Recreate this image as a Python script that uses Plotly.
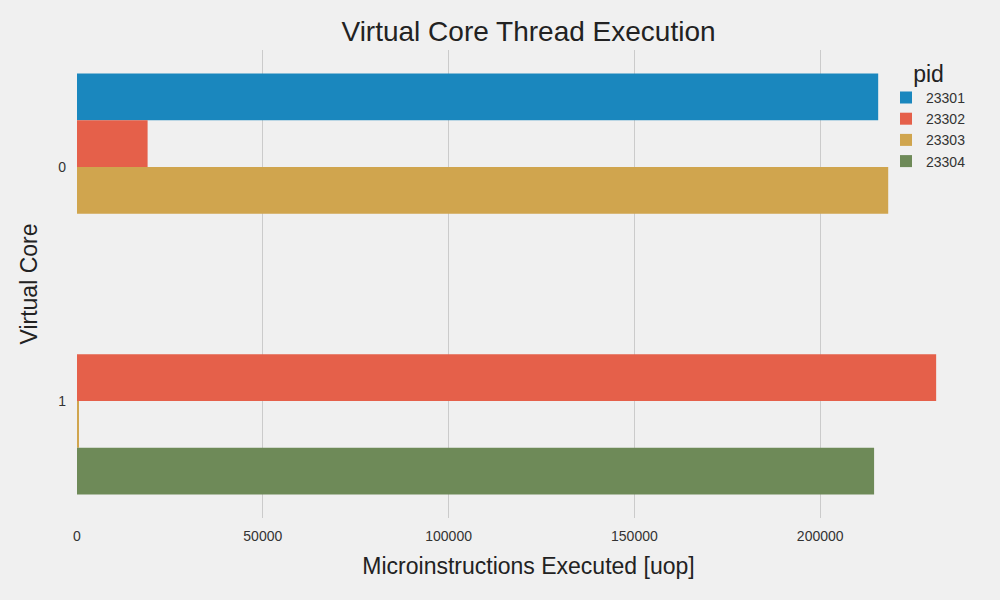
import plotly.graph_objects as go

cores = ["0", "1"]
pids = ["23301", "23302", "23303", "23304"]
uops = {
    "23301": [215600, 0],
    "23302": [19000, 231200],
    "23303": [218300, 500],
    "23304": [0, 214500],
}
colors = {
    "23301": "#1a87be",
    "23302": "#e5604a",
    "23303": "#d0a54e",
    "23304": "#6e8a58",
}

fig = go.Figure()
for p in pids:
    fig.add_trace(go.Bar(
        x=uops[p], y=cores, name=p, orientation="h",
        marker=dict(color=colors[p], line=dict(width=0)),
    ))

L, R, T, B = 77, 20, 50, 82
fig.update_layout(
    width=1000, height=600,
    margin=dict(l=L, r=R, t=T, b=B),
    paper_bgcolor="#f0f0f0", plot_bgcolor="#f0f0f0",
    barmode="group", bargap=0.2, bargroupgap=0,
    font=dict(family="Liberation Sans, Arial, sans-serif", color="#333333"),
    title=dict(text="Virtual Core Thread Execution", xref="paper", x=0.5,
               xanchor="center", y=1 - 31 / 600, yanchor="middle",
               font=dict(size=28, color="#222222")),
    xaxis=dict(range=[0, 243000], tickvals=[0, 50000, 100000, 150000, 200000],
               ticktext=["0", "50000", "100000", "150000", "200000"],
               showgrid=True, gridcolor="#cbcbcb", gridwidth=1.3, zeroline=False,
               showline=False, ticks="", tickfont=dict(size=14, color="#333333"),
               ticklabelstandoff=8,
               title=dict(text="Microinstructions Executed [uop]",
                          font=dict(size=23, color="#222222"), standoff=14)),
    yaxis=dict(type="category", autorange="reversed", showgrid=False,
               zeroline=False, showline=False, ticks="",
               tickfont=dict(size=14, color="#333333"), ticklabelstandoff=10,
               title=dict(text="Virtual Core", font=dict(size=23, color="#222222"),
                          standoff=14)),
    legend=dict(x=(886 - L) / (1000 - L - R), xanchor="left",
                y=1 - (52 - T) / (600 - T - B), yanchor="top",
                bgcolor="rgba(0,0,0,0)", font=dict(size=14, color="#333333"),
                title=dict(text="pid", side="top center",
                           font=dict(size=23, color="#222222")),
                tracegroupgap=2, itemwidth=30),
)

fig.write_html("out.html", config={"displayModeBar": False},
               post_script="document.body.style.margin='0';document.body.style.overflow='hidden';")
